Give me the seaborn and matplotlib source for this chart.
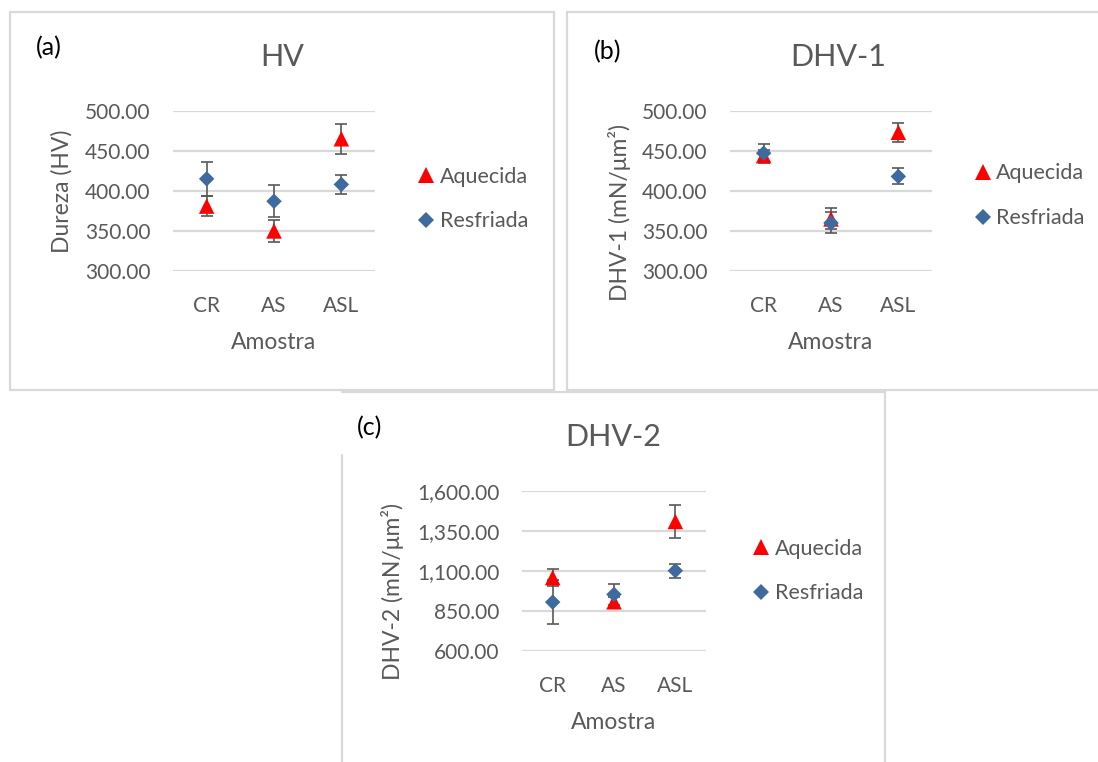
import matplotlib
matplotlib.use("Agg")
import matplotlib.pyplot as plt
from matplotlib.lines import Line2D
from matplotlib.ticker import FuncFormatter, FixedLocator
import seaborn as sns
import pandas as pd
import numpy as np

# ---------------- data ----------------
categories = ["CR", "AS", "ASL"]
series_names = ["Aquecida", "Resfriada"]

hv_aquecida = [381, 350, 465]
hv_aquecida_err = [12, 14, 19]
hv_resfriada = [415, 387, 408]
hv_resfriada_err = [21, 20, 12]

dhv1_aquecida = [444, 365, 473]
dhv1_aquecida_err = [7, 13, 12]
dhv1_resfriada = [447, 360, 418]
dhv1_resfriada_err = [12, 13, 10]

dhv2_aquecida = [1058, 907, 1408]
dhv2_aquecida_err = [52, 30, 104]
dhv2_resfriada = [905, 953, 1101]
dhv2_resfriada_err = [138, 64, 43]

hv_ticks = [300, 350, 400, 450, 500]
dhv1_ticks = [300, 350, 400, 450, 500]
dhv2_ticks = [600, 850, 1100, 1350, 1600]

# ---------------- style ----------------
sns.set_theme(style="white")
plt.rcParams["font.family"] = ["Lato", "DejaVu Sans"]
GRAY = "#595959"
GRID = "#D9D9D9"
RED = "#FF0000"
BLUE = "#3E6A9D"
FS = 15

W, H = 1098, 762
fig = plt.figure(figsize=(W / 100, H / 100), dpi=100)


def ax_rect(x0, x1, ytop, ybot):
    return [x0 / W, 1 - ybot / H, (x1 - x0) / W, (ybot - ytop) / H]


def make_df(aq, aq_e, rf, rf_e):
    rows = []
    for name, vals, errs in (("Aquecida", aq, aq_e), ("Resfriada", rf, rf_e)):
        for c, v, e in zip(categories, vals, errs):
            rows.append({"Amostra": c, "Série": name, "valor": v, "erro": e})
    return pd.DataFrame(rows)


def panel(rect, df, ticks, fmt, title, title_pos, ylabel, ylabel_pos,
          leg_pos, tag, tag_pos):
    ax = fig.add_axes(rect)
    pos = {c: i for i, c in enumerate(categories)}
    for name in series_names:
        d = df[df["Série"] == name]
        ax.errorbar([pos[c] for c in d["Amostra"]], d["valor"], yerr=d["erro"],
                    fmt="none", ecolor=GRAY, elinewidth=1.2, capsize=4.6,
                    capthick=1.2, zorder=2)
    d2 = df.assign(xpos=df["Amostra"].map(pos))
    sns.scatterplot(data=d2, x="xpos", y="valor", hue="Série", style="Série",
                    size="Série", hue_order=series_names,
                    style_order=series_names, size_order=series_names,
                    palette={"Aquecida": RED, "Resfriada": BLUE},
                    markers={"Aquecida": "^", "Resfriada": "D"},
                    sizes={"Aquecida": 125, "Resfriada": 62},
                    linewidth=0, ax=ax, zorder=3)
    ax.set_xlim(-0.5, len(categories) - 0.5)
    ax.set_ylim(ticks[0], ticks[-1])
    ax.xaxis.set_major_locator(FixedLocator(range(len(categories))))
    ax.set_xticklabels(categories)
    ax.set_yticks(ticks)
    ax.yaxis.set_major_formatter(FuncFormatter(lambda v, p: fmt.format(v)))
    ax.yaxis.grid(True, color=GRID, linewidth=1.6)
    ax.xaxis.grid(False)
    for s in ax.spines.values():
        s.set_visible(False)
    ax.tick_params(axis="y", length=0, pad=16, labelsize=FS, labelcolor=GRAY)
    ax.tick_params(axis="x", length=0, pad=18, labelsize=FS, labelcolor=GRAY)
    ax.set_xlabel("Amostra", fontsize=16.5, color=GRAY, va="center")
    ax.xaxis.set_label_coords(0.5, -0.443)
    ax.set_ylabel(ylabel, fontsize=16.5, color=GRAY, va="center")
    ax.yaxis.set_label_coords(*ylabel_pos)
    ax.text(title_pos[0], title_pos[1], title, transform=ax.transAxes,
            ha="center", va="center", fontsize=22, color=GRAY)
    sns.move_legend(ax, "center left", bbox_to_anchor=leg_pos, frameon=False,
                    title=None, fontsize=15.5, labelcolor=GRAY, borderpad=0,
                    handlelength=1.0, handletextpad=0.12, labelspacing=1.15,
                    borderaxespad=0)
    fig.text(tag_pos[0] / W, 1 - tag_pos[1] / H, tag, fontsize=18,
             color="black", ha="left", va="center")
    return ax


panel(ax_rect(173, 375, 110.7, 271), make_df(hv_aquecida, hv_aquecida_err,
      hv_resfriada, hv_resfriada_err), hv_ticks, "{:.2f}", "HV",
      (0.54, 1.338), "Dureza (HV)", (-0.55, 0.5), (1.2, 0.449), "(a)", (36, 48))

panel(ax_rect(730, 932, 110.7, 271), make_df(dhv1_aquecida, dhv1_aquecida_err,
      dhv1_resfriada, dhv1_resfriada_err), dhv1_ticks, "{:.2f}", "DHV-1",
      (0.538, 1.338), "DHV-1 (mN/μm²)", (-0.545, 0.368), (1.198, 0.469),
      "(b)", (594, 52))

panel(ax_rect(522, 706, 490.7, 651), make_df(dhv2_aquecida, dhv2_aquecida_err,
      dhv2_resfriada, dhv2_resfriada_err), dhv2_ticks, "{:,.2f}", "DHV-2",
      (0.495, 1.332), "DHV-2 (mN/μm²)", (-0.704, 0.37), (1.242, 0.499),
      "(c)", (357, 428))

# ---------------- panel borders ----------------
def seg(x0, y0, x1, y1):
    fig.add_artist(Line2D([x0 / W, x1 / W], [1 - y0 / H, 1 - y1 / H],
                          color=GRID, linewidth=1.6, transform=fig.transFigure))

# (a)
seg(10, 12, 554, 12); seg(10, 12, 10, 390); seg(554, 12, 554, 390); seg(10, 390, 554, 390)
# (b)
seg(567, 12, 1098, 12); seg(567, 12, 567, 390); seg(567, 390, 1098, 390)
# (c)
seg(342, 392, 885, 392); seg(885, 392, 885, 762); seg(342, 455, 342, 762)

fig.savefig("out.png", dpi=100)
